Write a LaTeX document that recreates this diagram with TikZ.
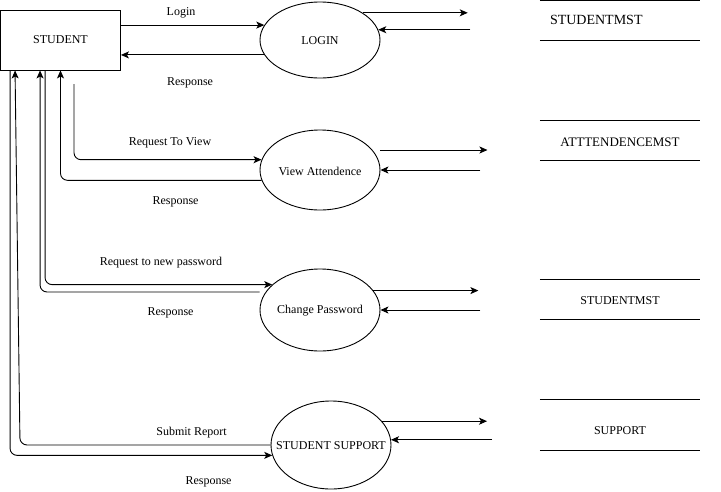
\documentclass[tikz,border=0pt]{standalone}
\usepackage{fontspec}
\setmainfont{Liberation Serif}
\usetikzlibrary{shapes.geometric,arrows.meta}

\tikzset{
    ent/.style={rectangle, draw, line width=0.9pt, minimum width=120pt, minimum height=60pt},
    proc/.style={ellipse, draw, line width=0.9pt, minimum width=120pt, minimum height=80pt, inner sep=0pt},
    store/.style={anchor=base, minimum width=160pt, inner sep=0pt, align=center},
    flow/.style={line width=0.9pt, rounded corners=7pt, -{Stealth[length=8pt,width=7pt,inset=2pt]}},
    lbl/.style={inner sep=0pt, yshift=-1.5pt},
    every label/.append style={yshift=-1pt},
}

\begin{document}
\begin{tikzpicture}[x=1pt, y=-1pt, font=\fontsize{12}{14}\selectfont]
    \useasboundingbox (0,0) rectangle (721,491);

    % entity and processes
    \node[ent] (student) at (60.5,40) {STUDENT};
    \node[proc, minimum height=76pt, label=center:LOGIN] (login) at (320,40) {};
    \node[proc, label=center:View Attendence] (view) at (320,170) {};
    \node[proc, minimum height=82pt, label=center:Change Password] (chpwd) at (320,310) {};
    \node[proc, minimum height=88pt, label=center:STUDENT SUPPORT] (support) at (331,445) {};

    % data stores (text height/depth reach the two lines)
    \node[store, text width=140pt, inner xsep=10pt, align=left, text height=24.1pt, text depth=16.1pt,
          font=\fontsize{14}{16}\selectfont] (smst) at (620,24.6) {STUDENTMST};
    \node[store, text height=25.3pt, text depth=14pt,
          font=\fontsize{13}{15}\selectfont] (satt) at (620,146) {ATTTENDENCEMST};
    \node[store, text height=24.7pt, text depth=14.6pt] (spwd) at (620,304.7) {STUDENTMST};
    \node[store, text height=34.7pt, text depth=16pt] (ssup) at (620,434.7) {SUPPORT};
    \foreach \s in {smst,satt,spwd,ssup}{
        \draw[line width=0.9pt] (\s.north west) -- (\s.north east)
                                (\s.south west) -- (\s.south east);
    }

    % free ends
    \coordinate (rq1) at (74,84);
    \coordinate (sbk) at (20,445);
    \coordinate (lo1) at ([xshift=105pt]login.north east);
    \coordinate (li1) at ([xshift=92pt]login.10);
    \coordinate (vo0) at ([yshift=20pt]view.east);
    \coordinate (vo1) at ([xshift=107pt]vo0);
    \coordinate (vi1) at ([xshift=100pt]view.east);
    \coordinate (co1) at ([xshift=105pt]chpwd.20);
    \coordinate (ci1) at ([xshift=100pt]chpwd.east);
    \coordinate (so1) at ([xshift=105pt]support.25);
    \coordinate (si1) at ([xshift=101pt]support.5);

    % login
    \draw[flow] (student.east |- login.165) -- (login.165);
    \draw[flow] (login.195) -- (student.east |- login.195);
    \draw[flow] (login.north east) -- (lo1);
    \draw[flow] (li1) -- (login.10);
    \node[lbl] (tlogin) at (181,11) {Login};
    \node[lbl] (tresp1) at (190,81) {Response};

    % view attendence
    \draw[flow] (rq1) |- (view.170);
    \draw[flow] (view.190) -| (student.south);
    \draw[flow] (vo0) -- (vo1);
    \draw[flow] (vi1) -- (view.east);
    \node[lbl] (tview) at (170,141) {Request To View};
    \node[lbl] (tresp2) at (175.5,200.7) {Response};

    % change password
    \draw[flow] ([xshift=45pt]student.south west) |- (chpwd.152);
    \draw[flow] ([yshift=18pt]chpwd.west) -| ([xshift=40pt]student.south west);
    \draw[flow] (chpwd.20) -- (co1);
    \draw[flow] (ci1) -- (chpwd.east);
    \node[lbl] (tpwd) at (161,261) {Request to new password};
    \node[lbl] (tresp3) at (170.5,311) {Response};

    % student support
    \draw[flow] (support.west) -- (sbk) -- ([xshift=15pt]student.south west);
    \draw[flow] ([xshift=10pt]student.south west) |- (support.190);
    \draw[flow] (support.25) -- (so1);
    \draw[flow] (si1) -- (support.5);
    \node[lbl] (tsub) at (191.5,431) {Submit Report};
    \node[lbl] (tresp4) at (208.5,480.5) {Response};
\end{tikzpicture}
\end{document}
